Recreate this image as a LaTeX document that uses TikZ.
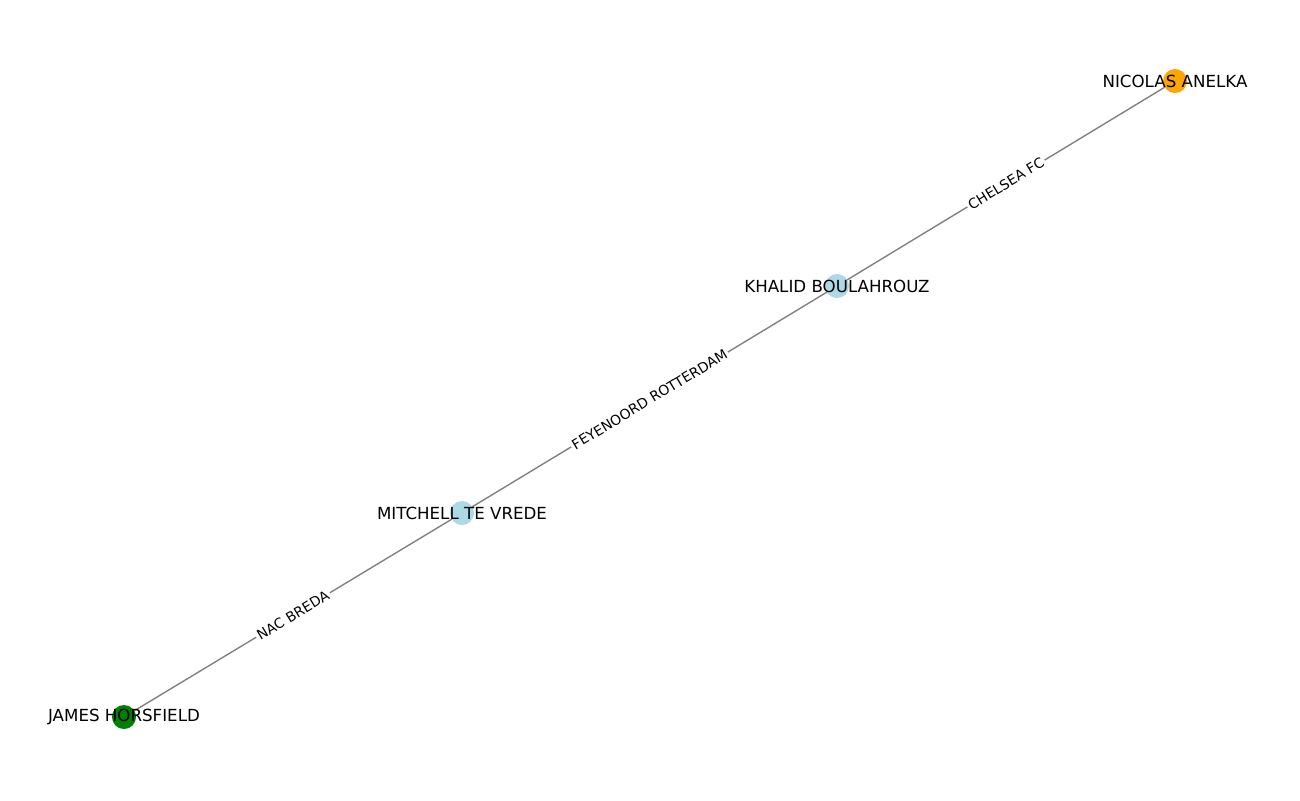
\documentclass[tikz,border=0pt]{standalone}
\usepackage{fontspec}
\setmainfont{DejaVu Sans}
\usetikzlibrary{backgrounds}
\definecolor{player blue}{HTML}{ADD8E6}
\definecolor{player orange}{HTML}{FFA500}
\definecolor{player green}{HTML}{008000}
\tikzset{
  player/.style={circle, minimum size=17.3pt, inner sep=0pt, draw=none},
  name label/.style={font=\fontsize{12}{14}\selectfont, inner sep=0pt, text=black},
  club label/.style={midway, sloped, fill=white, text=black, inner sep=1.5pt, font=\fontsize{10}{12}\selectfont}
  }
\tikzstyle{transfer} = [draw, line width=1pt, -, gray]
\def\players{{(1175,81)/anelka/player orange/NICOLAS ANELKA}, {(837,286)/boulahrouz/player blue/KHALID BOULAHROUZ}, {(462,513)/tevrede/player blue/MITCHELL TE VREDE}, {(124,717)/horsfield/player green/JAMES HORSFIELD}}

\begin{document}
\begin{tikzpicture}[x=0.72pt, y=-0.72pt]

    % Frame of the figure
    \useasboundingbox (0,0) rectangle (1300,800);

    % The players
    \foreach \pos/\name/\col/\text in \players {
      \node[player, fill=\col] (\name) at \pos {};
      \node[name label] (\name-label) at \pos {\text};
    }

    % The clubs linking them
    \begin{scope}[on background layer]
      \foreach \source/\sink/\club in {anelka/boulahrouz/CHELSEA FC, boulahrouz/tevrede/FEYENOORD ROTTERDAM, tevrede/horsfield/NAC BREDA}
        \path[transfer] (\source.center) -- (\sink.center) node[club label] {\club};
    \end{scope}

\end{tikzpicture}
\end{document}
